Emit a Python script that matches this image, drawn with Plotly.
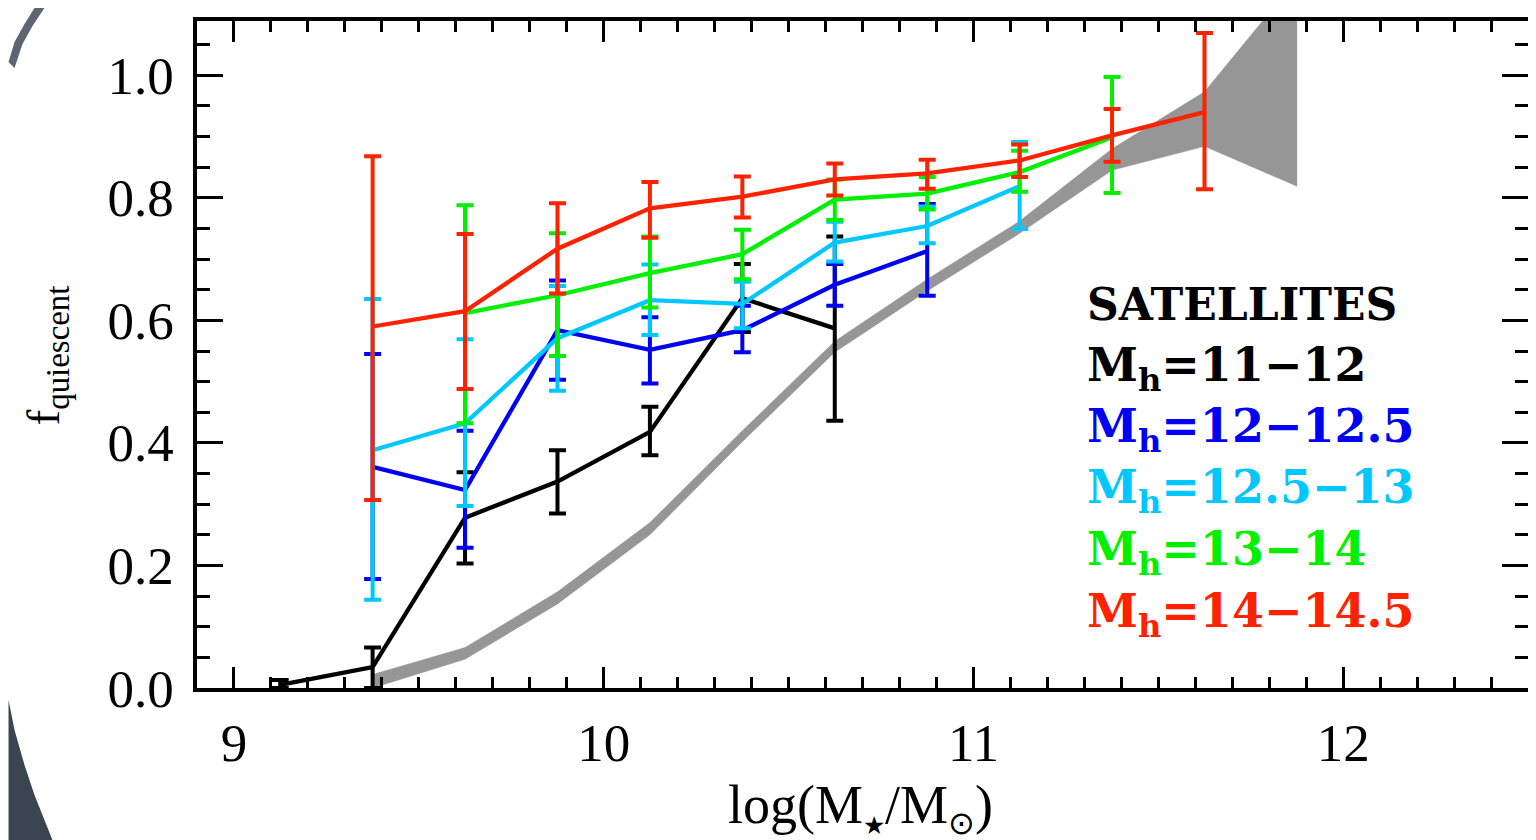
import plotly.graph_objects as go

# ---- data ----
# grey band (central / model relation)
band_x = [9.375, 9.625, 9.875, 10.125, 10.375, 10.625, 10.875, 11.125, 11.375, 11.625, 11.875]
band_hi = [0.022, 0.066, 0.157, 0.270, 0.420, 0.566, 0.667, 0.762, 0.880, 0.973, 1.157]
band_lo = [0.000, 0.047, 0.137, 0.250, 0.402, 0.548, 0.648, 0.742, 0.845, 0.884, 0.819]

# Mh = 11-12 (black)
blk_x = [9.125, 9.375, 9.625, 9.875, 10.125, 10.375, 10.625]
blk_y = [0.005, 0.034, 0.278, 0.337, 0.418, 0.636, 0.587]
blk_hi = [0.013, 0.066, 0.352, 0.388, 0.459, 0.692, 0.737]
blk_lo = [0.000, 0.000, 0.203, 0.285, 0.380, 0.581, 0.436]

# Mh = 12-12.5 (blue)
blu_x = [9.375, 9.625, 9.875, 10.125, 10.375, 10.625, 10.875]
blu_y = [0.361, 0.323, 0.584, 0.552, 0.584, 0.658, 0.713]
blu_hi = [0.545, 0.420, 0.665, 0.605, 0.624, 0.692, 0.790]
blu_lo = [0.178, 0.229, 0.503, 0.497, 0.548, 0.624, 0.640]

# Mh = 12.5-13 (light blue)
cya_x = [9.375, 9.625, 9.875, 10.125, 10.375, 10.625, 10.875, 11.125]
cya_y = [0.388, 0.432, 0.571, 0.633, 0.627, 0.727, 0.754, 0.819]
cya_hi = [0.635, 0.569, 0.656, 0.691, 0.663, 0.761, 0.786, 0.891]
cya_lo = [0.144, 0.297, 0.485, 0.576, 0.587, 0.696, 0.726, 0.749]

# Mh = 13-14 (green)
grn_x = [9.625, 9.875, 10.125, 10.375, 10.625, 10.875, 11.125, 11.375]
grn_y = [0.612, 0.641, 0.677, 0.708, 0.797, 0.807, 0.842, 0.899]
grn_hi = [0.788, 0.742, 0.737, 0.748, 0.830, 0.834, 0.877, 0.997]
grn_lo = [0.432, 0.542, 0.621, 0.667, 0.764, 0.781, 0.810, 0.808]

# Mh = 14-14.5 (red)
red_x = [9.375, 9.625, 9.875, 10.125, 10.375, 10.625, 10.875, 11.125, 11.375, 11.625]
red_y = [0.590, 0.615, 0.717, 0.783, 0.802, 0.830, 0.840, 0.861, 0.902, 0.940]
red_hi = [0.868, 0.741, 0.791, 0.826, 0.835, 0.856, 0.862, 0.887, 0.945, 1.069]
red_lo = [0.307, 0.488, 0.644, 0.735, 0.768, 0.804, 0.815, 0.834, 0.859, 0.814]

x_ticks = [9, 10, 11, 12]
y_ticks = [0.0, 0.2, 0.4, 0.6, 0.8, 1.0]
y_ticklabels = ["0.0", "0.2", "0.4", "0.6", "0.8", "1.0"]

legend_title = "SATELLITES"
legend_labels = ["M<sub>h</sub>=11\u221212", "M<sub>h</sub>=12\u221212.5",
                 "M<sub>h</sub>=12.5\u221213", "M<sub>h</sub>=13\u221214",
                 "M<sub>h</sub>=14\u221214.5"]

BLACK = "#000000"
BLUE = "#0000F5"
CYAN = "#00C8FF"
GREEN = "#00F000"
RED = "#FF2200"
GREY = "#969696"
colors = [BLACK, BLUE, CYAN, GREEN, RED]

fig = go.Figure()

# grey band
fig.add_trace(go.Scatter(
    x=band_x + band_x[::-1], y=band_hi + band_lo[::-1],
    fill="toself", fillcolor=GREY, line=dict(color=GREY, width=0.5),
    mode="lines", hoverinfo="skip", showlegend=False))

series = [(blk_x, blk_y, blk_hi, blk_lo),
          (blu_x, blu_y, blu_hi, blu_lo),
          (cya_x, cya_y, cya_hi, cya_lo),
          (grn_x, grn_y, grn_hi, grn_lo),
          (red_x, red_y, red_hi, red_lo)]

for (xs, ys, hi, lo), col in zip(series, colors):
    plus = [h - y for h, y in zip(hi, ys)]
    minus = [y - l for y, l in zip(ys, lo)]
    fig.add_trace(go.Scatter(
        x=xs, y=ys, mode="lines",
        line=dict(color=col, width=4.3),
        error_y=dict(type="data", symmetric=False, array=plus, arrayminus=minus,
                     color=col, thickness=4, width=8.5),
        showlegend=False))

# the page body has an 8px margin: compensate so the plot lands where it should
OFF = 8
W, H = 1536 - OFF, 840 - OFF
PL, PR, PT, PB = 197, 1532, 21, 688   # plot box in screen pixels
L, T = PL - OFF, PT - OFF
R = OFF + W - PR
B = OFF + H - PB
pw, ph = PR - PL, PB - PT

def px_x(px):
    return (px - PL) / pw

def px_y(py):
    return (PB - py) / ph

TICKFONT = dict(family="Liberation Serif", size=53, color="black")

fig.update_layout(
    width=W, height=H,
    margin=dict(l=L, r=R, t=T, b=B, pad=0),
    paper_bgcolor="white", plot_bgcolor="white",
    xaxis=dict(range=[8.9, 12.5], tickvals=x_ticks, ticktext=[str(v) for v in x_ticks],
               ticks="inside", ticklen=21, tickwidth=3, tickcolor="black",
               minor=dict(ticks="inside", ticklen=11, tickwidth=2.5, dtick=0.1, tickcolor="black"),
               showline=True, linewidth=3.5, linecolor="black", mirror="allticks",
               showgrid=False, zeroline=False, tickfont=TICKFONT, ticklabelstandoff=6),
    yaxis=dict(range=[0, 1.0886], tickvals=y_ticks, ticktext=y_ticklabels,
               ticks="inside", ticklen=26, tickwidth=3, tickcolor="black",
               minor=dict(ticks="inside", ticklen=13, tickwidth=2.5, dtick=0.05, tickcolor="black"),
               showline=True, linewidth=3.5, linecolor="black", mirror="allticks",
               showgrid=False, zeroline=False, tickfont=TICKFONT, ticklabelstandoff=9),
)

annotations = []
# axis titles
annotations.append(dict(
    text="log(M<sub><span style=\"font-size:25px\">\u2605</span></sub>/M<sub><span style=\"font-size:32px\">\u2299</span></sub>)",
    xref="paper", yref="paper", x=px_x(862), y=px_y(808), xanchor="center", yanchor="middle",
    showarrow=False, font=dict(family="Liberation Serif", size=54, color="black")))
annotations.append(dict(text="f<sub>quiescent</sub>", xref="paper", yref="paper",
                        x=px_x(46), y=px_y(355), xanchor="center", yanchor="middle", textangle=-90,
                        showarrow=False, font=dict(family="Liberation Serif", size=47, color="black")))

LEGFONT = "DejaVu Serif"
annotations.append(dict(text="<b>%s</b>" % legend_title, xref="paper", yref="paper",
                        x=px_x(1088), y=px_y(304), xanchor="left", yanchor="middle",
                        showarrow=False, font=dict(family=LEGFONT, size=44, color="black")))
leg_y = [368, 429, 490, 552, 614]
for lab, col, yy in zip(legend_labels, colors, leg_y):
    annotations.append(dict(text="<b>%s</b>" % lab, xref="paper", yref="paper",
                            x=px_x(1088), y=px_y(yy), xanchor="left", yanchor="middle",
                            showarrow=False, font=dict(family=LEGFONT, size=46, color=col)))

fig.update_layout(annotations=annotations)

# dark worn-edge artefacts in the left corners of the reference image
def path_px(pts):
    return "M " + " L ".join("%.4f,%.4f" % (px_x(x), px_y(y)) for x, y in pts) + " Z"

fig.add_shape(type="path", xref="paper", yref="paper", layer="above",
              path=path_px([(8, 700), (14, 730), (24, 765), (34, 795), (44, 820), (52, 840), (8, 840)]),
              fillcolor="#3b4550", line=dict(width=0))
fig.add_shape(type="path", xref="paper", yref="paper", layer="above",
              path=path_px([(8, 62), (14, 42), (24, 24), (34, 8), (44, 8), (32, 26), (22, 44), (14, 68)]),
              fillcolor="#5b6672", line=dict(width=0))

fig.write_html("out.html")
